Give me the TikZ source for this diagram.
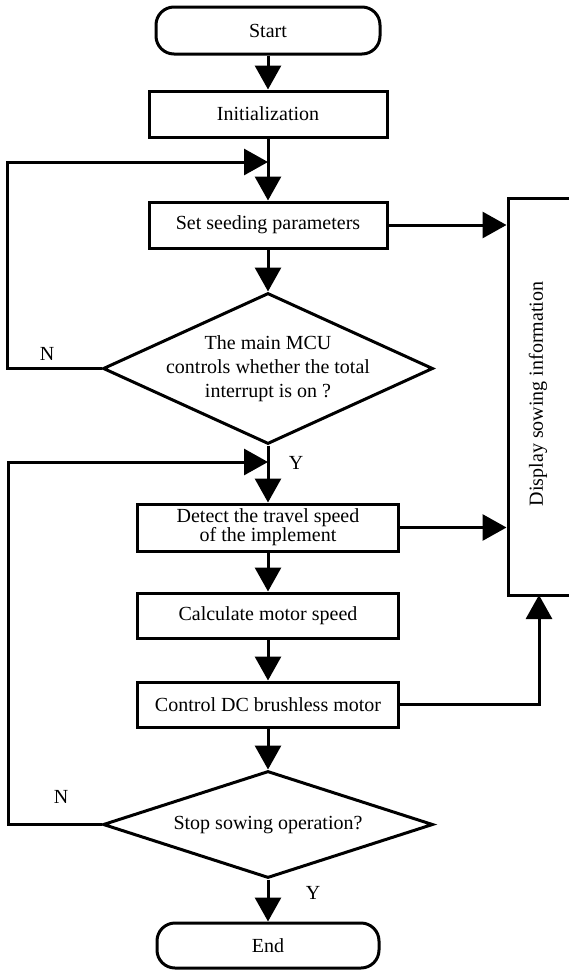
\documentclass[tikz,border=0pt]{standalone}
\usepackage{fontspec}
\setmainfont{Liberation Serif}
\usetikzlibrary{shapes.geometric,arrows.meta}
\begin{document}
\begin{tikzpicture}[x=1pt,y=-1pt,
  lw/.style={line width=3pt},
  txt/.style={font=\fontsize{20}{24}\selectfont,align=center,inner sep=0pt},
  box/.style={draw,lw,rectangle,txt},
  term/.style={box,rounded corners=18pt},
  dia/.style={draw,lw,diamond,inner sep=0pt},
  arr/.style={lw,-{Triangle[length=24pt,width=26pt]}}]
\useasboundingbox (0,0) rectangle (568,972);
% nodes
\node[term,minimum width=224pt,minimum height=47pt] (start) at (268,30.5) {Start};
\node[box,minimum width=238pt,minimum height=46pt] (init) at (268,114) {Initialization};
\node[box,minimum width=238pt,minimum height=46pt] (set) at (268,225) {Set seeding parameters};
\node[dia,minimum width=330pt,minimum height=151pt] (d1) at (268,368.5) {};
\node[txt] (d1t) at (268,369) {The main MCU\\controls whether the total\\interrupt is on ?};
\node[box,minimum width=261pt,minimum height=47pt,font=\fontsize{20}{19}\selectfont] (det) at (268,527.5) {Detect the travel speed\\of the implement};
\node[box,minimum width=261pt,minimum height=45pt] (calc) at (268,615.5) {Calculate motor speed};
\node[box,minimum width=261pt,minimum height=45pt] (ctrl) at (268,704.5) {Control DC brushless motor};
\node[dia,minimum width=330pt,minimum height=107pt] (d2) at (268,824.5) {};
\node[txt] (d2t) at (268,825) {Stop sowing operation?};
\node[term,minimum width=222pt,minimum height=45pt] (end) at (268,945.5) {End};
\node[draw,lw,rectangle,minimum width=62pt,minimum height=397pt,inner sep=0pt] (disp) at (539,396.5) {};
\node[txt,rotate=90] (dispt) at (538,394) {Display sowing information};
% labels
\node[txt] (n1) at (47,354) {N};
\node[txt] (y1) at (296,463) {Y};
\node[txt] (n2) at (61,797) {N};
\node[txt] (y2) at (313,893) {Y};
% coordinates
\coordinate (j1) at (268,162);
\coordinate (l1) at (7,162);
\coordinate (j2) at (268,462);
\coordinate (l2) at (8,462);
\coordinate (dispb) at (539,595);
% main flow
\draw[arr] (start.south) -- (init.north);
\draw[arr] (init.south) -- (set.north);
\draw[arr] (set.south) -- (d1.north);
\draw[arr] (d1.south) -- (det.north);
\draw[arr] (det.south) -- (calc.north);
\draw[arr] (calc.south) -- (ctrl.north);
\draw[arr] (ctrl.south) -- (d2.north);
\draw[arr] (d2.south) -- (end.north);
% loops
\draw[arr] (d1.west) -| (l1) -- (j1);
\draw[arr] (d2.west) -| (l2) -- (j2);
% display
\draw[arr] (set.east) -- (set.east -| disp.west);
\draw[arr] (det.east) -- (det.east -| disp.west);
\draw[arr] (ctrl.east) -| (dispb);
\end{tikzpicture}
\end{document}
